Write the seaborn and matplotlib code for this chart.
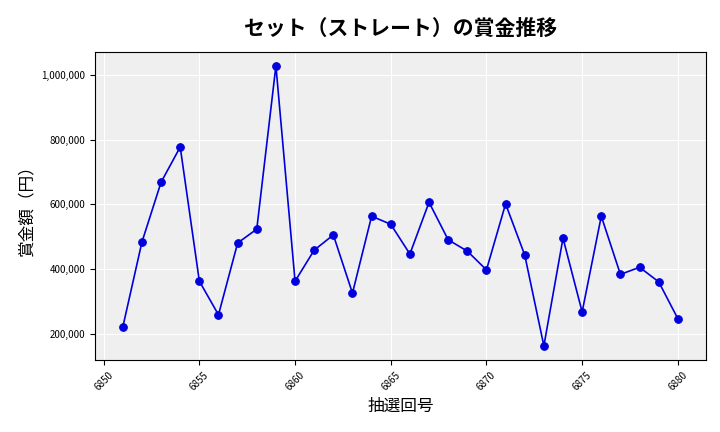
import matplotlib
matplotlib.use("Agg")
import matplotlib.pyplot as plt
import seaborn as sns
import pandas as pd
from matplotlib.ticker import FuncFormatter

draws = list(range(6851, 6881))
prizes = [220000, 483000, 668000, 777000, 362000, 258000, 480000, 523000, 1028000, 362000,
          458000, 505000, 325000, 563000, 538000, 446000, 606000, 490000, 455000, 397000,
          601000, 443000, 162000, 495000, 267000, 563000, 383000, 405000, 360000, 246000]

sns.set_style("whitegrid")
plt.rcParams['font.family'] = ['Noto Sans CJK JP', 'DejaVu Sans']
plt.rcParams['text.color'] = 'black'
plt.rcParams['axes.labelcolor'] = 'black'
df = pd.DataFrame({"draw": draws, "prize": prizes})

fig, ax = plt.subplots(figsize=(7.2, 4.32), dpi=100)
ax.set_facecolor("#efefef")
sns.lineplot(data=df, x="draw", y="prize", color="#0000dd", marker="o", markersize=5.5,
             markeredgecolor="#0000dd", linewidth=1.2, ax=ax)
ax.grid(color="white", linewidth=0.8)
for s in ax.spines.values():
    s.set_color("black"); s.set_linewidth(0.8)
ax.yaxis.set_major_formatter(FuncFormatter(lambda v, p: f"{int(v):,}"))
ax.set_xticks(range(6850, 6881, 5))
ax.tick_params(axis="x", rotation=45, labelsize=7, colors="black", length=3.5, width=0.8, bottom=True)
ax.tick_params(axis="y", labelsize=7, colors="black", length=3.5, width=0.8, left=True)
ax.set_xlabel("抽選回号", fontsize=12, color="black")
ax.set_ylabel("賞金額（円）", fontsize=12, color="black")
ax.set_title("セット（ストレート）の賞金推移", fontsize=15, pad=12, fontweight="bold", color="black")
fig.subplots_adjust(left=0.132, right=0.98, top=0.88, bottom=0.167)
fig.savefig("out.png", dpi=100)
